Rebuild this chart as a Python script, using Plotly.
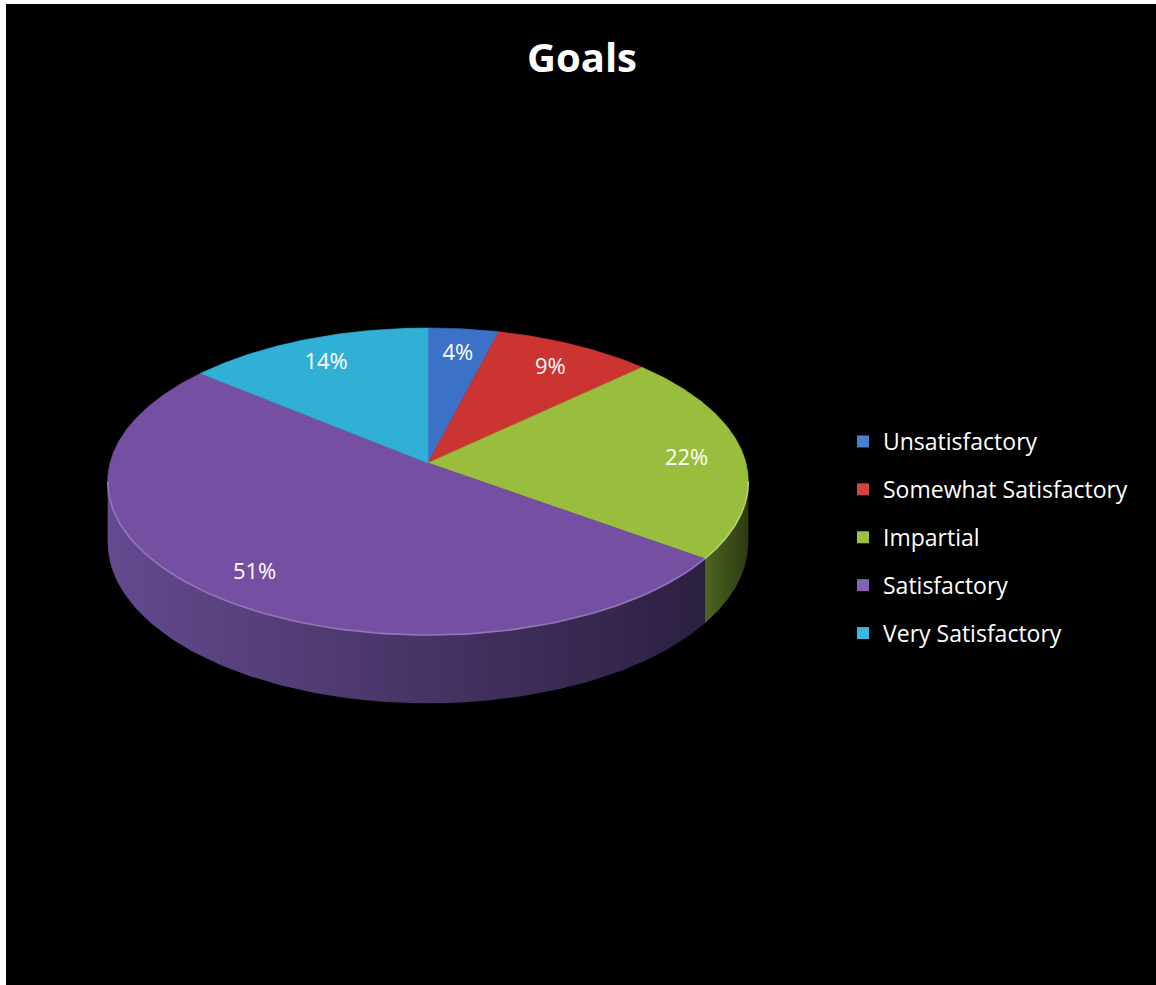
import numpy as np
import plotly.graph_objects as go

# Survey results for "Goals"
categories = ["Unsatisfactory", "Somewhat Satisfactory", "Impartial", "Satisfactory", "Very Satisfactory"]
values = [4, 9, 22, 51, 14]

top_colors = ["#3b72c8", "#cc3432", "#99bd3c", "#7550a2", "#31b0d6"]
side_colors = [
    ("#2d5596", "#1c3868"),
    ("#98302c", "#6a1f1c"),
    ("#4f6522", "#2c3a12"),
    ("#644a8e", "#2c2041"),
    ("#25839f", "#17586b"),
]
rim_colors = ["#6b95d8", "#dd6a66", "#b6d46a", "#9377bd", "#6cc8e4"]
legend_colors = ["#4a7fd0", "#d04440", "#9cc040", "#8462b0", "#3cb8dc"]

W, H = 1156, 985

# Tilted-disc projection parameters (pixel space)
CX, CY = 428.0, 463.0      # apex of the slices
A, B = 318.0, 151.3        # horizontal / vertical radii
P = 0.1205                 # perspective strength
DEPTH = 60.0               # thickness of the disc


def project(theta_deg, r=1.0, drop=0.0):
    t = np.radians(theta_deg)
    x3 = r * np.sin(t)
    z3 = r * np.cos(t)
    w = 1.0 + P * z3
    return CX + A * x3 / w, CY - B * z3 / w + drop / w


total = float(sum(values))
bounds = []
start = 0.0
for v in values:
    end = start + v / total * 360.0
    bounds.append((start, end))
    start = end

# silhouette of the side wall
sil = np.degrees(np.arccos(-P))
side_lo, side_hi = sil, 360.0 - sil

fig = go.Figure()

# side walls (front half of the disc)
for i, (a0, a1) in enumerate(bounds):
    lo, hi = max(a0, side_lo), min(a1, side_hi)
    if hi <= lo:
        continue
    th = np.linspace(lo, hi, 120)
    xt, yt = project(th)
    xb, yb = project(th[::-1], drop=DEPTH)
    xs = np.concatenate([xt, xb, xt[:1]])
    ys = np.concatenate([yt, yb, yt[:1]])
    c1, c2 = side_colors[i]
    fig.add_trace(go.Scatter(
        x=xs, y=ys, mode="lines", fill="toself",
        line=dict(width=0, color=c2),
        fillgradient=dict(type="horizontal", colorscale=[[0, c1], [1, c2]]),
        hoverinfo="skip", showlegend=False,
    ))

# top faces
for i, (a0, a1) in enumerate(bounds):
    th = np.linspace(a0, a1, max(int((a1 - a0) * 2), 8))
    xr, yr = project(th)
    xs = np.concatenate([[CX], xr, [CX]])
    ys = np.concatenate([[CY], yr, [CY]])
    fig.add_trace(go.Scatter(
        x=xs, y=ys, mode="lines", fill="toself",
        fillcolor=top_colors[i], line=dict(width=0.6, color=top_colors[i]),
        hoverinfo="skip", showlegend=False,
    ))

# light edge along the front rim
for i, (a0, a1) in enumerate(bounds):
    lo, hi = max(a0, side_lo), min(a1, side_hi)
    if hi <= lo:
        continue
    th = np.linspace(lo, hi, 100)
    xr, yr = project(th)
    fig.add_trace(go.Scatter(
        x=xr, y=yr, mode="lines", line=dict(width=1.6, color=rim_colors[i]),
        hoverinfo="skip", showlegend=False,
    ))

# percentage labels
lx, ly, lt = [], [], []
for v, (a0, a1) in zip(values, bounds):
    x, y = project((a0 + a1) / 2.0, r=0.82)
    lx.append(x)
    ly.append(y + 4)
    lt.append(f"{v}%")
fig.add_trace(go.Scatter(
    x=lx, y=ly, mode="text", text=lt,
    textfont=dict(family="Open Sans", size=22, color="white"),
    hoverinfo="skip", showlegend=False,
))

# legend entries
for i, name in enumerate(categories):
    fig.add_trace(go.Scatter(
        x=[None], y=[None], mode="markers", name=name,
        legendgroup=name,
        marker=dict(symbol="square", size=12, color=legend_colors[i],
                    line=dict(width=0)),
    ))

fig.update_layout(
    width=W, height=H,
    margin=dict(l=0, r=0, t=0, b=0),
    paper_bgcolor="black", plot_bgcolor="black",
    xaxis=dict(range=[0, W], visible=False, fixedrange=True),
    yaxis=dict(range=[H, 0], visible=False, fixedrange=True),
    showlegend=True,
    legend=dict(
        x=843 / W, y=1 - 420 / H, xanchor="left", yanchor="top",
        font=dict(family="Open Sans", size=23, color="white"),
        bgcolor="rgba(0,0,0,0)", tracegroupgap=15, itemsizing="constant",
    ),
    annotations=[dict(
        text="<b>Goals</b>", x=582 / W, y=1 - 57 / H, xref="paper", yref="paper",
        showarrow=False, xanchor="center", yanchor="middle",
        font=dict(family="Open Sans", size=40, color="white"),
    )],
    shapes=[
        dict(type="rect", xref="paper", yref="paper", x0=0, x1=6 / W, y0=0, y1=1,
             fillcolor="white", line=dict(width=0), layer="above"),
        dict(type="rect", xref="paper", yref="paper", x0=0, x1=1, y0=1 - 4 / H, y1=1,
             fillcolor="white", line=dict(width=0), layer="above"),
    ],
)

fig.write_html("out.html")
